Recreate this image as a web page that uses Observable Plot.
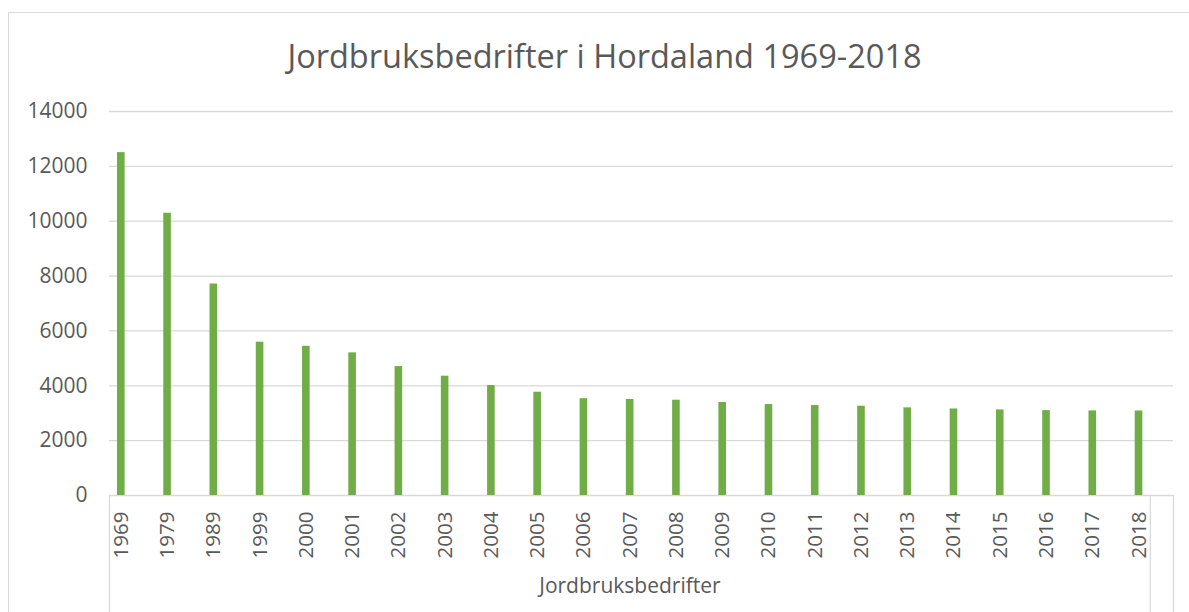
<!DOCTYPE html>
<html><head><meta charset="utf-8">
<script src="https://cdn.jsdelivr.net/npm/d3@7"></script>
<script src="https://cdn.jsdelivr.net/npm/@observablehq/plot@0.6"></script>
<style>
body{margin:0;background:#fff;font-family:"Open Sans",sans-serif;}
#wrap{position:relative;width:1189px;height:612px;overflow:hidden;background:#fff;}
#border{position:absolute;left:8px;top:12px;width:1300px;height:700px;border:1px solid #d9d9d9;box-sizing:border-box;}
#title{position:absolute;left:8px;width:1193px;top:33px;text-align:center;font-size:32.5px;color:#595959;white-space:nowrap;}
#chart{position:absolute;left:0;top:0;}
</style></head><body>
<div id="wrap"><div id="border"></div><div id="title"></div><div id="chart"></div></div>
<script>
const title = "Jordbruksbedrifter i Hordaland 1969-2018";
const groupLabel = "Jordbruksbedrifter";
const years = ["1969","1979","1989","1999","2000","2001","2002","2003","2004","2005","2006","2007","2008","2009","2010","2011","2012","2013","2014","2015","2016","2017","2018"];
const values = [12500,10290,7710,5590,5440,5200,4700,4350,4010,3765,3530,3500,3475,3390,3315,3280,3255,3195,3155,3120,3095,3085,3080];
const yTicks = [0,2000,4000,6000,8000,10000,12000,14000];

const data = years.map((year, i) => ({year, value: values[i]}));
document.getElementById("title").textContent = title;

const W = 1189, H = 612, mL = 109, mR = 16, mT = 111, mB = 117;
const bw = (W - mL - mR) / years.length;
const grey = "#d9d9d9", textCol = "#595959";

const plot = Plot.plot({
  width: W, height: H,
  marginLeft: mL, marginRight: mR, marginTop: mT, marginBottom: mB,
  style: {fontFamily: "'Open Sans', sans-serif", fontSize: "20px", color: textCol, background: "transparent", overflow: "visible"},
  x: {type: "band", domain: years, padding: 0, round: false, axis: null},
  y: {domain: [0, 14000], axis: null},
  marks: [
    Plot.gridY(yTicks, {stroke: grey, strokeOpacity: 1, strokeWidth: 1.3}),
    Plot.axisY(yTicks, {tickSize: 0, tickPadding: 22, fontSize: 21, fill: textCol, label: null, tickFormat: d => String(d)}),
    Plot.barY(data, {x: "year", y: "value", fill: "#70ad47", insetLeft: 8, insetRight: bw - 15.6}),
    Plot.axisX({tickSize: 0, tickRotate: -90, tickPadding: 16, dx: -(bw / 2 - 11.7), fontSize: 20.5, fill: textCol, label: null}),
    Plot.ruleX([years[0]], {dx: -bw / 2, y1: 0, y2: 0, insetBottom: -mB, stroke: grey, strokeWidth: 1.3}),
    Plot.ruleX([years[years.length - 1]], {y1: 0, y2: 0, insetBottom: -mB, stroke: grey, strokeWidth: 1.3}),
    Plot.ruleX([years[years.length - 1]], {dx: bw / 2, y1: 0, y2: 0, insetBottom: -mB, stroke: grey, strokeWidth: 1.3}),
    Plot.text([groupLabel], {frameAnchor: "bottom", dx: -bw / 4, dy: 97, fontSize: 21, fill: textCol})
  ]
});
document.getElementById("chart").appendChild(plot);
</script>
</body></html>
